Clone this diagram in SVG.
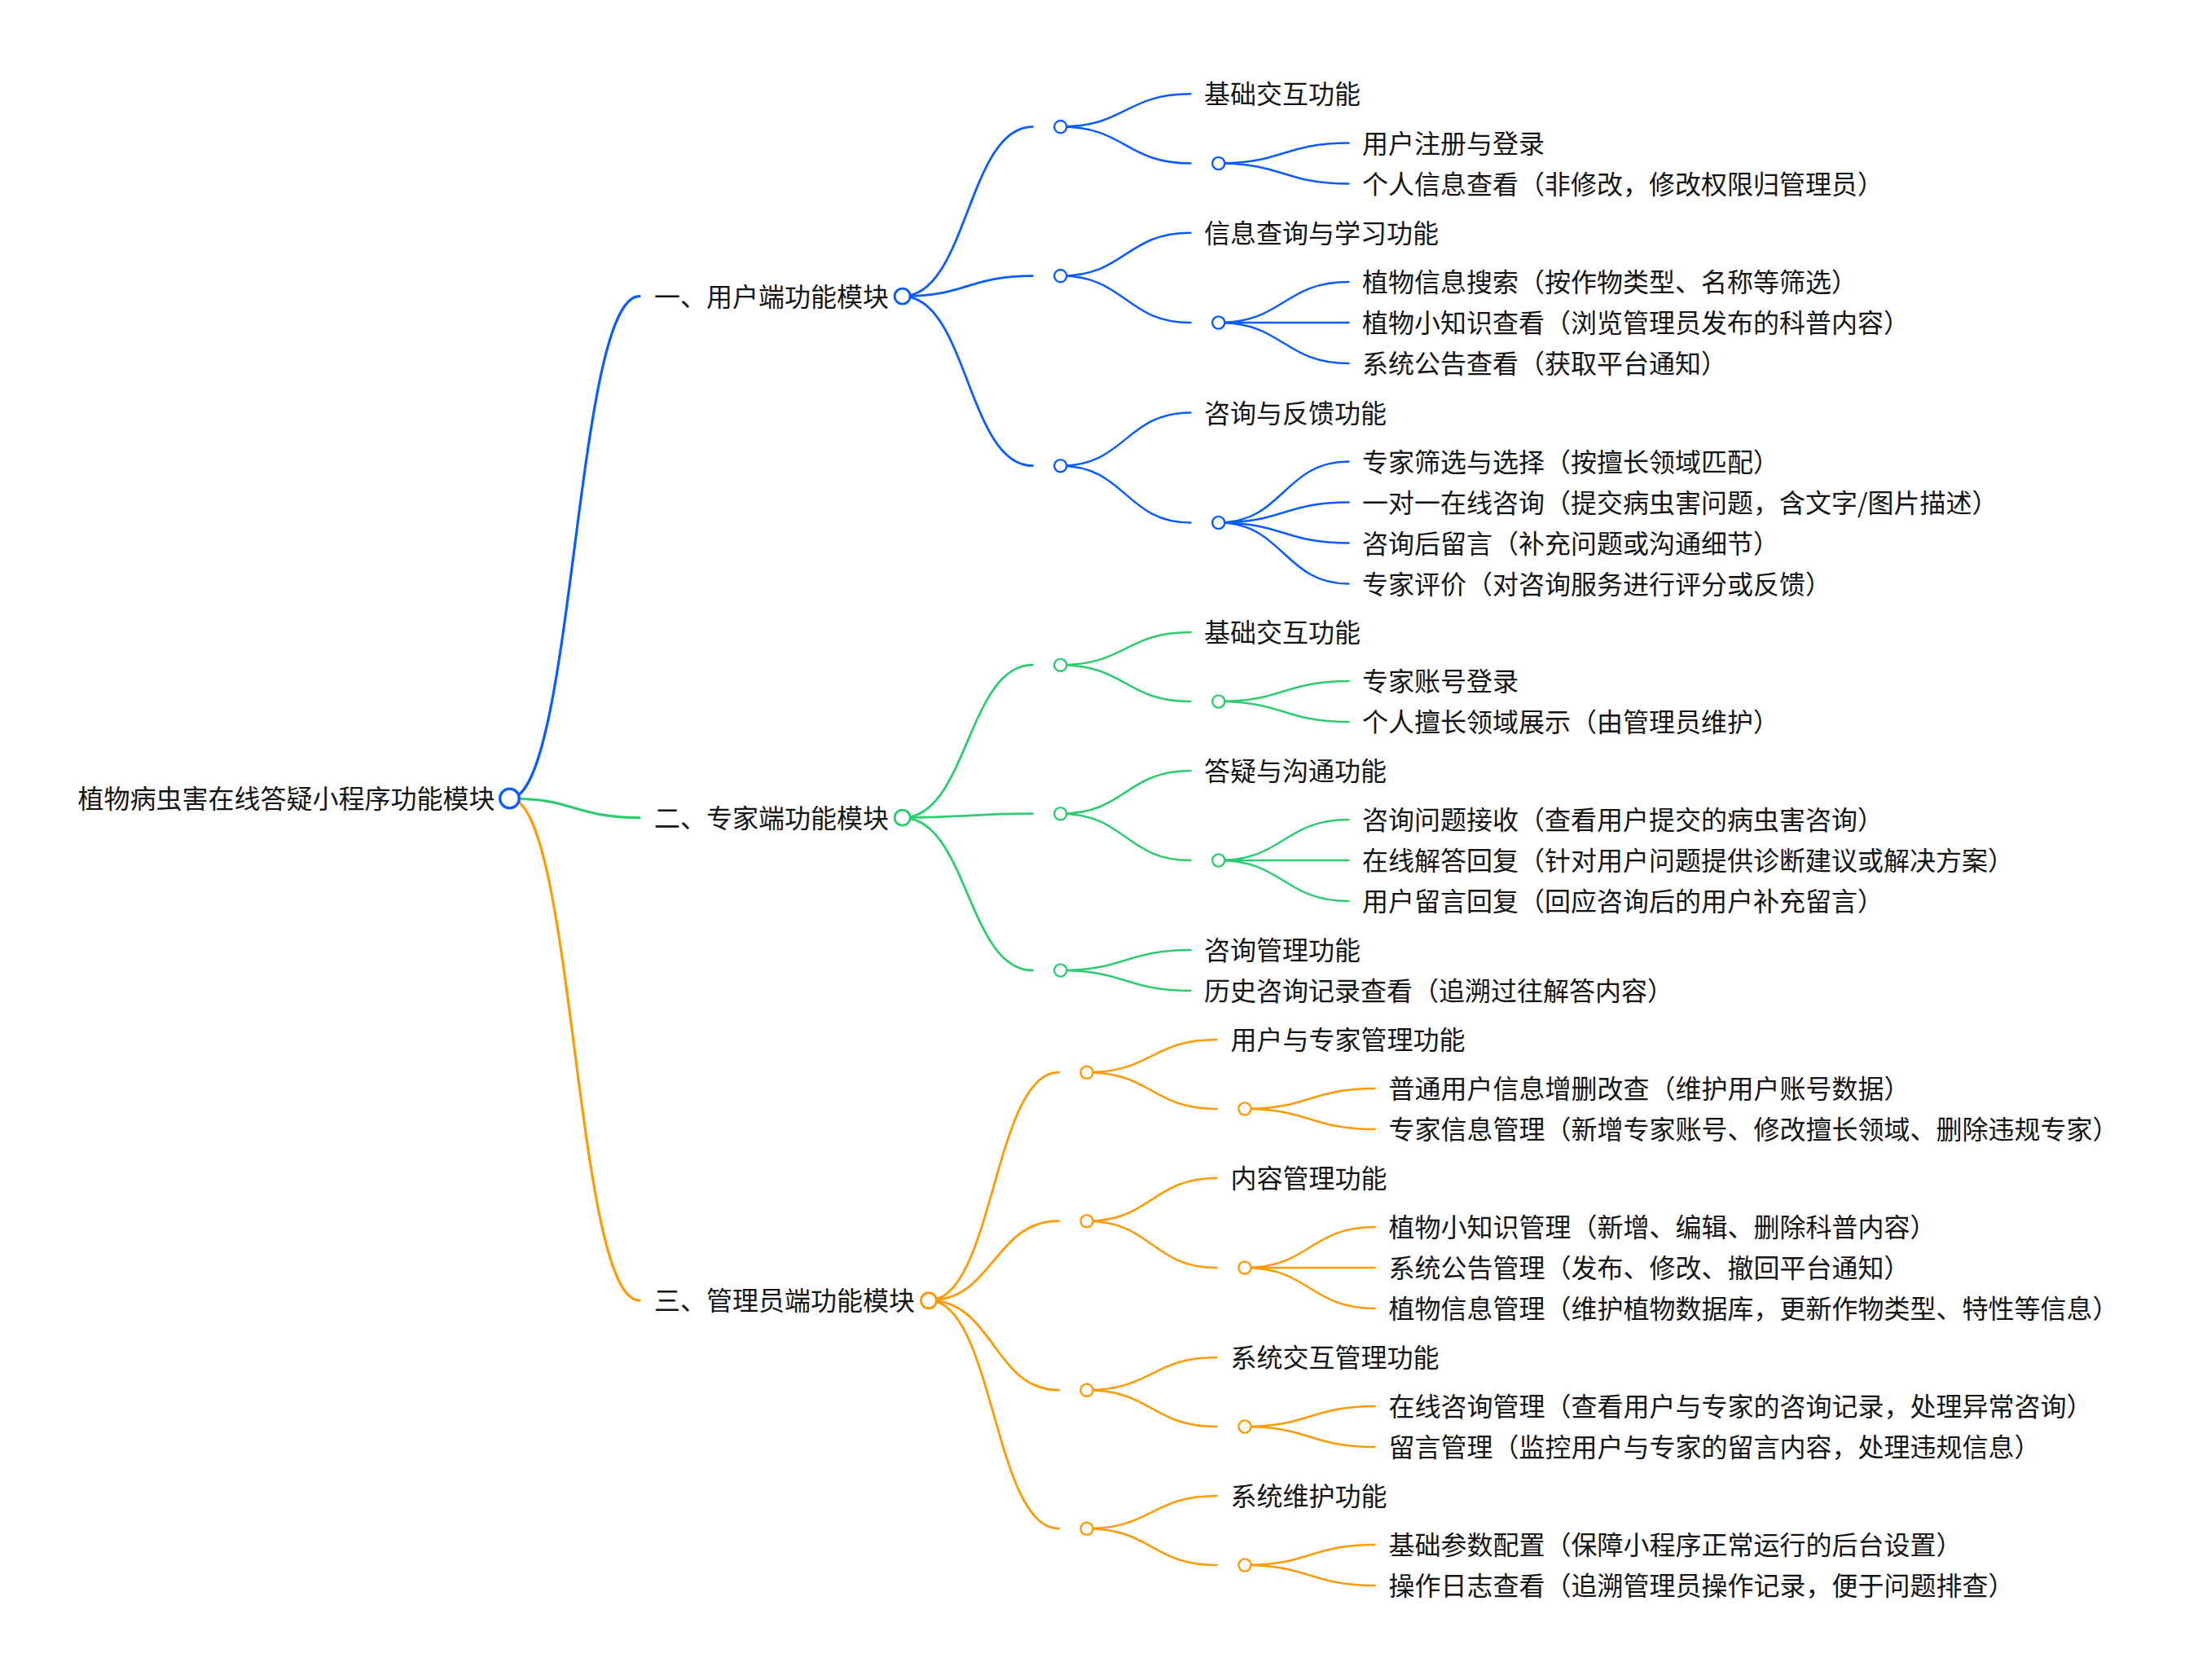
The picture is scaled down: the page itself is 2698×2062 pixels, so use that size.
<svg xmlns="http://www.w3.org/2000/svg" width="2698" height="2062" viewBox="0 0 2698 2062">
<style>
text{font-family:"Noto Sans CJK SC","Noto Sans",sans-serif;font-size:32px;fill:#151515;dominant-baseline:central;transform:translateY(-2px)}
.l{fill:none;stroke-width:2.5;stroke-linecap:round}
.l0{stroke-width:3.2}
.l1{stroke-width:2.8}
.b{stroke:#0a5cff}.g{stroke:#2ecc71}.o{stroke:#ff9a05}
circle{fill:#fff}
.c0{stroke-width:3.3}.c1{stroke-width:2.9}.c2{stroke-width:2.4}
</style>
<rect width="2698" height="2062" fill="#fff"/>
<g id="connectors">
<path class="l l0 b" d="M625.5,980 C705.25,980 705.25,363.6 785,363.6"/>
<path class="l l0 g" d="M625.5,980 C705.25,980 705.25,1003.6 785,1003.6"/>
<path class="l l0 o" d="M625.5,980 C705.25,980 705.25,1596.2 785,1596.2"/>
<path class="l l1 b" d="M1107.7,363.6 C1187.6,363.6 1187.6,155.6 1267.5,155.6"/>
<path class="l l1 b" d="M1107.7,363.6 C1187.6,363.6 1187.6,338.6 1267.5,338.6"/>
<path class="l l1 b" d="M1107.7,363.6 C1187.6,363.6 1187.6,571.7 1267.5,571.7"/>
<path class="l l1 g" d="M1107.7,1003.6 C1187.6,1003.6 1187.6,816.2 1267.5,816.2"/>
<path class="l l1 g" d="M1107.7,1003.6 C1187.6,1003.6 1187.6,998.7 1267.5,998.7"/>
<path class="l l1 g" d="M1107.7,1003.6 C1187.6,1003.6 1187.6,1191 1267.5,1191"/>
<path class="l l1 o" d="M1140,1596.2 C1219.75,1596.2 1219.75,1316.2 1299.5,1316.2"/>
<path class="l l1 o" d="M1140,1596.2 C1219.75,1596.2 1219.75,1498.7 1299.5,1498.7"/>
<path class="l l1 o" d="M1140,1596.2 C1219.75,1596.2 1219.75,1706.2 1299.5,1706.2"/>
<path class="l l1 o" d="M1140,1596.2 C1219.75,1596.2 1219.75,1876.2 1299.5,1876.2"/>
<path class="l b" d="M1301.7,155.6 C1381.6,155.6 1381.6,115.3 1461.5,115.3"/>
<path class="l b" d="M1301.7,155.6 C1381.6,155.6 1381.6,200.5 1461.5,200.5"/>
<path class="l b" d="M1301.7,338.6 C1381.6,338.6 1381.6,285.7 1461.5,285.7"/>
<path class="l b" d="M1301.7,338.6 C1381.6,338.6 1381.6,396 1461.5,396"/>
<path class="l b" d="M1301.7,571.7 C1381.6,571.7 1381.6,506.5 1461.5,506.5"/>
<path class="l b" d="M1301.7,571.7 C1381.6,571.7 1381.6,641.5 1461.5,641.5"/>
<path class="l b" d="M1495.7,200.5 C1575.6,200.5 1575.6,175.5 1655.5,175.5"/>
<path class="l b" d="M1495.7,200.5 C1575.6,200.5 1575.6,225.5 1655.5,225.5"/>
<path class="l b" d="M1495.7,396 C1575.6,396 1575.6,346 1655.5,346"/>
<path class="l b" d="M1495.7,396 C1575.6,396 1575.6,396 1655.5,396"/>
<path class="l b" d="M1495.7,396 C1575.6,396 1575.6,446 1655.5,446"/>
<path class="l b" d="M1495.7,641.5 C1575.6,641.5 1575.6,566.5 1655.5,566.5"/>
<path class="l b" d="M1495.7,641.5 C1575.6,641.5 1575.6,616.5 1655.5,616.5"/>
<path class="l b" d="M1495.7,641.5 C1575.6,641.5 1575.6,666.5 1655.5,666.5"/>
<path class="l b" d="M1495.7,641.5 C1575.6,641.5 1575.6,716.5 1655.5,716.5"/>
<path class="l g" d="M1301.7,816.2 C1381.6,816.2 1381.6,776 1461.5,776"/>
<path class="l g" d="M1301.7,816.2 C1381.6,816.2 1381.6,861 1461.5,861"/>
<path class="l g" d="M1301.7,998.7 C1381.6,998.7 1381.6,946 1461.5,946"/>
<path class="l g" d="M1301.7,998.7 C1381.6,998.7 1381.6,1056 1461.5,1056"/>
<path class="l g" d="M1301.7,1191 C1381.6,1191 1381.6,1166 1461.5,1166"/>
<path class="l g" d="M1301.7,1191 C1381.6,1191 1381.6,1216 1461.5,1216"/>
<path class="l g" d="M1495.7,861 C1575.6,861 1575.6,836 1655.5,836"/>
<path class="l g" d="M1495.7,861 C1575.6,861 1575.6,886 1655.5,886"/>
<path class="l g" d="M1495.7,1056 C1575.6,1056 1575.6,1006 1655.5,1006"/>
<path class="l g" d="M1495.7,1056 C1575.6,1056 1575.6,1056 1655.5,1056"/>
<path class="l g" d="M1495.7,1056 C1575.6,1056 1575.6,1106 1655.5,1106"/>
<path class="l o" d="M1334,1316.2 C1413.75,1316.2 1413.75,1276 1493.5,1276"/>
<path class="l o" d="M1334,1316.2 C1413.75,1316.2 1413.75,1361 1493.5,1361"/>
<path class="l o" d="M1334,1498.7 C1413.75,1498.7 1413.75,1446 1493.5,1446"/>
<path class="l o" d="M1334,1498.7 C1413.75,1498.7 1413.75,1556 1493.5,1556"/>
<path class="l o" d="M1334,1706.2 C1413.75,1706.2 1413.75,1666 1493.5,1666"/>
<path class="l o" d="M1334,1706.2 C1413.75,1706.2 1413.75,1751 1493.5,1751"/>
<path class="l o" d="M1334,1876.2 C1413.75,1876.2 1413.75,1836 1493.5,1836"/>
<path class="l o" d="M1334,1876.2 C1413.75,1876.2 1413.75,1921 1493.5,1921"/>
<path class="l o" d="M1528,1361 C1607.85,1361 1607.85,1336 1687.7,1336"/>
<path class="l o" d="M1528,1361 C1607.85,1361 1607.85,1386 1687.7,1386"/>
<path class="l o" d="M1528,1556 C1607.85,1556 1607.85,1506 1687.7,1506"/>
<path class="l o" d="M1528,1556 C1607.85,1556 1607.85,1556 1687.7,1556"/>
<path class="l o" d="M1528,1556 C1607.85,1556 1607.85,1606 1687.7,1606"/>
<path class="l o" d="M1528,1751 C1607.85,1751 1607.85,1726 1687.7,1726"/>
<path class="l o" d="M1528,1751 C1607.85,1751 1607.85,1776 1687.7,1776"/>
<path class="l o" d="M1528,1921 C1607.85,1921 1607.85,1896 1687.7,1896"/>
<path class="l o" d="M1528,1921 C1607.85,1921 1607.85,1946 1687.7,1946"/>
</g>
<g id="root"><text x="607.5" y="980" text-anchor="end">植物病虫害在线答疑小程序功能模块</text><circle class="b c0" cx="625.5" cy="980" r="11.8"/></g>
<g id="m1"><text x="803" y="363.6">一、用户端功能模块</text><circle class="b c1" cx="1107.7" cy="363.6" r="9.5"/></g>
<g id="m2"><text x="803" y="1003.6">二、专家端功能模块</text><circle class="g c1" cx="1107.7" cy="1003.6" r="9.5"/></g>
<g id="m3"><text x="803" y="1596.2">三、管理员端功能模块</text><circle class="o c1" cx="1140" cy="1596.2" r="9.5"/></g>
<g id="g1a"><circle class="b c2" cx="1301.7" cy="155.6" r="7.6"/><text x="1478" y="115.3">基础交互功能</text><circle class="b c2" cx="1495.7" cy="200.5" r="7.6"/><text x="1672" y="175.5">用户注册与登录</text><text x="1672" y="225.5">个人信息查看（非修改，修改权限归管理员）</text></g>
<g id="g1b"><circle class="b c2" cx="1301.7" cy="338.6" r="7.6"/><text x="1478" y="285.7">信息查询与学习功能</text><circle class="b c2" cx="1495.7" cy="396" r="7.6"/><text x="1672" y="346">植物信息搜索（按作物类型、名称等筛选）</text><text x="1672" y="396">植物小知识查看（浏览管理员发布的科普内容）</text><text x="1672" y="446">系统公告查看（获取平台通知）</text></g>
<g id="g1c"><circle class="b c2" cx="1301.7" cy="571.7" r="7.6"/><text x="1478" y="506.5">咨询与反馈功能</text><circle class="b c2" cx="1495.7" cy="641.5" r="7.6"/><text x="1672" y="566.5">专家筛选与选择（按擅长领域匹配）</text><text x="1672" y="616.5">一对一在线咨询（提交病虫害问题，含文字/图片描述）</text><text x="1672" y="666.5">咨询后留言（补充问题或沟通细节）</text><text x="1672" y="716.5">专家评价（对咨询服务进行评分或反馈）</text></g>
<g id="g2a"><circle class="g c2" cx="1301.7" cy="816.2" r="7.6"/><text x="1478" y="776">基础交互功能</text><circle class="g c2" cx="1495.7" cy="861" r="7.6"/><text x="1672" y="836">专家账号登录</text><text x="1672" y="886">个人擅长领域展示（由管理员维护）</text></g>
<g id="g2b"><circle class="g c2" cx="1301.7" cy="998.7" r="7.6"/><text x="1478" y="946">答疑与沟通功能</text><circle class="g c2" cx="1495.7" cy="1056" r="7.6"/><text x="1672" y="1006">咨询问题接收（查看用户提交的病虫害咨询）</text><text x="1672" y="1056">在线解答回复（针对用户问题提供诊断建议或解决方案）</text><text x="1672" y="1106">用户留言回复（回应咨询后的用户补充留言）</text></g>
<g id="g2c"><circle class="g c2" cx="1301.7" cy="1191" r="7.6"/><text x="1478" y="1166">咨询管理功能</text><text x="1478" y="1216">历史咨询记录查看（追溯过往解答内容）</text></g>
<g id="g3a"><circle class="o c2" cx="1334" cy="1316.2" r="7.6"/><text x="1510.5" y="1276">用户与专家管理功能</text><circle class="o c2" cx="1528" cy="1361" r="7.6"/><text x="1704.5" y="1336">普通用户信息增删改查（维护用户账号数据）</text><text x="1704.5" y="1386">专家信息管理（新增专家账号、修改擅长领域、删除违规专家）</text></g>
<g id="g3b"><circle class="o c2" cx="1334" cy="1498.7" r="7.6"/><text x="1510.5" y="1446">内容管理功能</text><circle class="o c2" cx="1528" cy="1556" r="7.6"/><text x="1704.5" y="1506">植物小知识管理（新增、编辑、删除科普内容）</text><text x="1704.5" y="1556">系统公告管理（发布、修改、撤回平台通知）</text><text x="1704.5" y="1606">植物信息管理（维护植物数据库，更新作物类型、特性等信息）</text></g>
<g id="g3c"><circle class="o c2" cx="1334" cy="1706.2" r="7.6"/><text x="1510.5" y="1666">系统交互管理功能</text><circle class="o c2" cx="1528" cy="1751" r="7.6"/><text x="1704.5" y="1726">在线咨询管理（查看用户与专家的咨询记录，处理异常咨询）</text><text x="1704.5" y="1776">留言管理（监控用户与专家的留言内容，处理违规信息）</text></g>
<g id="g3d"><circle class="o c2" cx="1334" cy="1876.2" r="7.6"/><text x="1510.5" y="1836">系统维护功能</text><circle class="o c2" cx="1528" cy="1921" r="7.6"/><text x="1704.5" y="1896">基础参数配置（保障小程序正常运行的后台设置）</text><text x="1704.5" y="1946">操作日志查看（追溯管理员操作记录，便于问题排查）</text></g>
</svg>
